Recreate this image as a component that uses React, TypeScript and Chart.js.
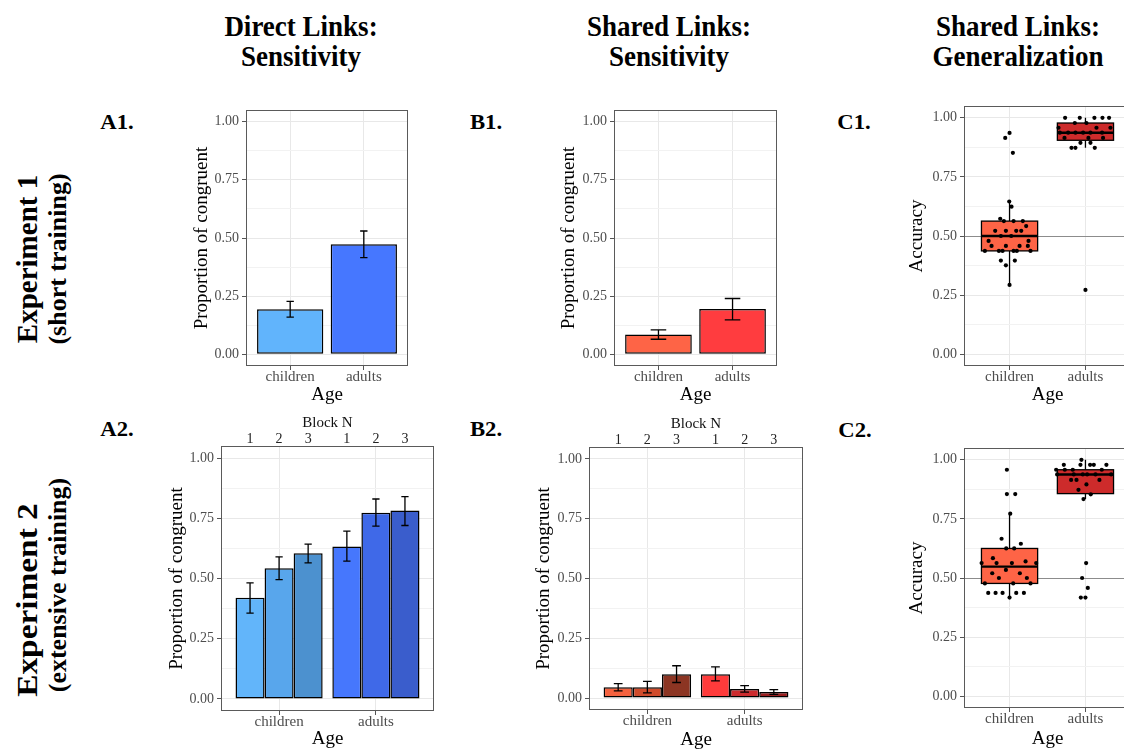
import React, { useEffect, useRef } from "react";
import { Chart, registerables } from "chart.js";

Chart.register(...registerables);

const FONT = "'Liberation Serif', 'Times New Roman', Times, serif";

// ---------- categories / ticks ----------
const ageGroups = ["children", "adults"];
const blockLabels = ["1", "2", "3"];
const yMajorTicks = [0, 0.25, 0.5, 0.75, 1];
const yMinorTicks = [0.125, 0.375, 0.625, 0.875];
const chanceLevel = 0.5;

// ---------- A1: Direct links sensitivity, Exp 1 ----------
const a1Means = [0.194, 0.473];
const a1Low = [0.16, 0.416];
const a1High = [0.228, 0.53];

// ---------- B1: Shared links sensitivity, Exp 1 ----------
const b1Means = [0.085, 0.195];
const b1Low = [0.065, 0.148];
const b1High = [0.105, 0.24];

// ---------- A2: per block, [children, adults] ----------
const a2Block1 = [0.42, 0.633];
const a2Block1Low = [0.356, 0.572];
const a2Block1High = [0.482, 0.697];
const a2Block2 = [0.543, 0.773];
const a2Block2Low = [0.495, 0.717];
const a2Block2High = [0.59, 0.83];
const a2Block3 = [0.605, 0.782];
const a2Block3Low = [0.565, 0.72];
const a2Block3High = [0.643, 0.84];

// ---------- B2: per block, [children, adults] ----------
const b2Block1 = [0.045, 0.1];
const b2Block1Low = [0.03, 0.072];
const b2Block1High = [0.06, 0.13];
const b2Block2 = [0.045, 0.038];
const b2Block2Low = [0.022, 0.025];
const b2Block2High = [0.07, 0.052];
const b2Block3 = [0.1, 0.025];
const b2Block3Low = [0.065, 0.015];
const b2Block3High = [0.135, 0.035];

// ---------- C1: generalization accuracy, Exp 1 ----------
const c1ChildAcc = [0.915, 0.936, 0.852, 0.646, 0.624, 0.573, 0.563, 0.563, 0.563, 0.542, 0.522, 0.522, 0.522, 0.522, 0.5, 0.5, 0.479, 0.479, 0.458, 0.458, 0.458, 0.458, 0.437, 0.437, 0.437, 0.437, 0.437, 0.437, 0.396, 0.396, 0.376, 0.293];
const c1ChildJitter = [-0.057, 0.0, 0.044, -0.004, 0.026, -0.123, -0.075, 0.053, 0.175, 0.219, -0.189, -0.048, 0.088, 0.154, -0.114, 0.022, -0.276, 0.25, -0.237, -0.048, 0.132, 0.241, -0.325, -0.14, -0.092, 0.053, 0.096, 0.276, -0.114, 0.07, -0.048, 0.0];
const c1AdultAcc = [1.0, 1.0, 1.0, 1.0, 1.0, 0.978, 0.978, 0.958, 0.958, 0.958, 0.937, 0.937, 0.937, 0.937, 0.937, 0.937, 0.915, 0.915, 0.915, 0.894, 0.894, 0.873, 0.873, 0.873, 0.272];
const c1AdultJitter = [-0.268, -0.075, 0.118, 0.224, 0.311, -0.14, 0.013, -0.355, 0.145, 0.329, -0.338, -0.228, -0.132, -0.031, 0.066, 0.219, -0.276, 0.039, 0.232, -0.066, 0.066, -0.184, -0.132, 0.123, 0.0];
// box stats [children, adults]
const c1Lower = [0.293, 0.873];
const c1Q1 = [0.437, 0.905];
const c1Median = [0.5, 0.937];
const c1Q3 = [0.563, 0.978];
const c1Upper = [0.646, 1.0];

// ---------- C2: generalization accuracy, Exp 2 ----------
const c2ChildAcc = [0.958, 0.855, 0.855, 0.772, 0.666, 0.645, 0.625, 0.625, 0.584, 0.57, 0.563, 0.563, 0.563, 0.563, 0.534, 0.52, 0.52, 0.5, 0.5, 0.477, 0.477, 0.477, 0.437, 0.437, 0.437, 0.437, 0.437, 0.417];
const c2ChildJitter = [-0.035, -0.035, 0.075, 0.009, -0.105, 0.149, -0.044, 0.061, -0.219, 0.211, -0.368, -0.171, 0.031, 0.351, -0.048, -0.228, 0.136, -0.14, 0.228, -0.325, 0.048, 0.276, -0.281, -0.184, -0.092, 0.088, 0.189, 0.0];
const c2AdultAcc = [1.0, 0.979, 0.979, 0.979, 0.979, 0.979, 0.958, 0.958, 0.958, 0.958, 0.938, 0.938, 0.938, 0.938, 0.938, 0.938, 0.915, 0.915, 0.915, 0.896, 0.873, 0.854, 0.834, 0.563, 0.5, 0.458, 0.417, 0.417];
const c2AdultJitter = [-0.053, -0.285, -0.066, 0.061, 0.11, 0.276, -0.386, -0.272, -0.167, 0.215, -0.373, -0.154, -0.035, 0.022, 0.132, 0.338, -0.189, -0.118, 0.184, 0.013, -0.092, 0.07, -0.026, 0.009, -0.044, 0.031, -0.061, 0.0];
const c2Lower = [0.417, 0.834];
const c2Q1 = [0.477, 0.857];
const c2Median = [0.548, 0.938];
const c2Q3 = [0.625, 0.958];
const c2Upper = [0.772, 1.0];

// ---------- colours ----------
const a1Colors = ["#61b4fc", "#4677ff"];
const b1Colors = ["#fe6446", "#ff3c3f"];
const a2ChildColors = ["#62b5fa", "#58a6ec", "#4c91cf"];
const a2AdultColors = ["#4677fd", "#3f69e8", "#3a5dcc"];
const b2ChildColors = ["#f4623f", "#d04b2b", "#8c3523"];
const b2AdultColors = ["#ff3b3b", "#cc2b2e", "#9a1d1e"];
const boxColors = ["#fe6446", "#cd2b2b"];

// ---------- axis/layout constants ----------
const X_MIN = 0.4;
const X_MAX = 2.6;
const Y_MIN = -0.05;
const Y_MAX = 1.05;
const DODGE = 0.9;
const BOX_WIDTH = 0.74;

const isMajor = (v: number) => yMajorTicks.some((m) => Math.abs(m - v) < 1e-9);

function zeroPad(s: any) {
  s.paddingLeft = 0;
  s.paddingRight = 0;
  s.paddingTop = 0;
  s.paddingBottom = 0;
}

function makeY(title: string, width: number, titlePad: number) {
  return {
    type: "linear",
    position: "left",
    min: Y_MIN,
    max: Y_MAX,
    offset: false,
    afterBuildTicks: (s: any) => {
      s.ticks = [...yMajorTicks, ...yMinorTicks].sort((a, b) => a - b).map((v) => ({ value: v }));
    },
    afterFit: (s: any) => {
      s.width = width;
      zeroPad(s);
    },
    ticks: {
      callback: (v: number) => (isMajor(v) ? v.toFixed(2) : ""),
      font: { family: FONT, size: 14, lineHeight: 1 },
      color: "#4d4d4d",
      padding: 3,
      autoSkip: false,
    },
    grid: {
      offset: false,
      color: (c: any) => (c.tick && isMajor(c.tick.value) ? "#e8e8e8" : "#f2f2f2"),
      tickColor: (c: any) => (c.tick && isMajor(c.tick.value) ? "#555" : "rgba(0,0,0,0)"),
      tickLength: 4,
      lineWidth: 1,
    },
    border: { display: false },
    title: {
      display: true,
      text: title,
      font: { family: FONT, size: 19, lineHeight: 1 },
      color: "#000",
      padding: { top: titlePad, bottom: 0 },
    },
  };
}

function makeX(height: number) {
  return {
    type: "linear",
    position: "bottom",
    min: X_MIN,
    max: X_MAX,
    offset: false,
    afterBuildTicks: (s: any) => {
      s.ticks = ageGroups.map((_, i) => ({ value: i + 1 }));
    },
    afterFit: (s: any) => {
      s.height = height;
      zeroPad(s);
    },
    ticks: {
      callback: (_v: number, i: number) => ageGroups[i],
      font: { family: FONT, size: 15, lineHeight: 1 },
      color: "#4d4d4d",
      padding: 0,
      maxRotation: 0,
      minRotation: 0,
      autoSkip: false,
    },
    grid: { offset: false, color: "#e8e8e8", tickColor: "#555", tickLength: 4, lineWidth: 1 },
    border: { display: false },
    title: {
      display: true,
      text: "Age",
      font: { family: FONT, size: 19, lineHeight: 1 },
      color: "#000",
      padding: { top: 0, bottom: 0 },
    },
  };
}

function makeTop(height: number, titlePad: number) {
  return {
    type: "linear",
    position: "top",
    min: X_MIN,
    max: X_MAX,
    offset: false,
    afterBuildTicks: (s: any) => {
      const t: any[] = [];
      const n = blockLabels.length;
      ageGroups.forEach((_, g) =>
        blockLabels.forEach((_, b) => t.push({ value: g + 1 + (b - (n - 1) / 2) * (DODGE / n) }))
      );
      s.ticks = t;
    },
    afterFit: (s: any) => {
      s.height = height;
      zeroPad(s);
    },
    ticks: {
      callback: (_v: number, i: number) => blockLabels[i % blockLabels.length],
      font: { family: FONT, size: 14, lineHeight: 1 },
      color: "#222",
      padding: 0,
      maxRotation: 0,
      minRotation: 0,
      autoSkip: false,
    },
    grid: { display: false, drawTicks: false, offset: false },
    border: { display: false },
    title: {
      display: true,
      text: "Block N",
      font: { family: FONT, size: 15, lineHeight: 1 },
      color: "#111",
      padding: { top: titlePad, bottom: 0 },
    },
  };
}

// ---------- plugins ----------
const panelBorder = {
  id: "panelBorder",
  afterDatasetsDraw(chart: any) {
    const { ctx, chartArea: a } = chart;
    ctx.save();
    ctx.strokeStyle = "#5a5a5a";
    ctx.lineWidth = 1;
    ctx.strokeRect(Math.round(a.left) + 0.5, Math.round(a.top) + 0.5, Math.round(a.width) - 1, Math.round(a.height) - 1);
    ctx.restore();
  },
};

const errorBars = {
  id: "errorBars",
  afterDatasetsDraw(chart: any, _args: any, opts: any) {
    const { ctx } = chart;
    const y = chart.scales.y;
    const x = chart.scales.x;
    const half = Math.abs(x.getPixelForValue(1 + opts.capWidth) - x.getPixelForValue(1)) / 2;
    ctx.save();
    ctx.strokeStyle = "#000";
    ctx.lineWidth = 1.3;
    chart.data.datasets.forEach((ds: any, di: number) => {
      const meta = chart.getDatasetMeta(di);
      meta.data.forEach((el: any, i: number) => {
        const cx = el.x;
        const yl = y.getPixelForValue(ds.errLow[i]);
        const yh = y.getPixelForValue(ds.errHigh[i]);
        ctx.beginPath();
        ctx.moveTo(cx, yl);
        ctx.lineTo(cx, yh);
        ctx.moveTo(cx - half, yl);
        ctx.lineTo(cx + half, yl);
        ctx.moveTo(cx - half, yh);
        ctx.lineTo(cx + half, yh);
        ctx.stroke();
      });
    });
    ctx.restore();
  },
};

const boxPlot = {
  id: "boxPlot",
  beforeDatasetsDraw(chart: any, _args: any, opts: any) {
    const { ctx, chartArea: a } = chart;
    const x = chart.scales.x;
    const y = chart.scales.y;
    ctx.save();
    const yc = Math.round(y.getPixelForValue(opts.chance)) + 0.5;
    ctx.strokeStyle = "#8c8c8c";
    ctx.lineWidth = 1.2;
    ctx.beginPath();
    ctx.moveTo(a.left, yc);
    ctx.lineTo(a.right, yc);
    ctx.stroke();
    const half = Math.abs(x.getPixelForValue(1 + opts.width) - x.getPixelForValue(1)) / 2;
    opts.boxes.forEach((b: any, i: number) => {
      const cx = x.getPixelForValue(i + 1);
      const pLo = y.getPixelForValue(b.lower);
      const pQ1 = y.getPixelForValue(b.q1);
      const pMed = y.getPixelForValue(b.median);
      const pQ3 = y.getPixelForValue(b.q3);
      const pHi = y.getPixelForValue(b.upper);
      ctx.strokeStyle = "#000";
      ctx.lineWidth = 1.3;
      ctx.beginPath();
      ctx.moveTo(cx, pLo);
      ctx.lineTo(cx, pQ1);
      ctx.moveTo(cx, pQ3);
      ctx.lineTo(cx, pHi);
      ctx.stroke();
      ctx.fillStyle = opts.colors[i];
      ctx.fillRect(cx - half, pQ3, half * 2, pQ1 - pQ3);
      ctx.strokeRect(cx - half, pQ3, half * 2, pQ1 - pQ3);
      ctx.lineWidth = 2.4;
      ctx.beginPath();
      ctx.moveTo(cx - half, pMed);
      ctx.lineTo(cx + half, pMed);
      ctx.stroke();
    });
    ctx.restore();
  },
};

// ---------- chart builders ----------
type Geom = { left: number; top: number; w: number; h: number; padL: number; padT: number; padR: number; padB: number; titlePad: number };

type Series = { values: number[]; low: number[]; high: number[]; colors: string[] };

function barConfig(g: Geom, series: Series[], capWidth: number, hasTop: boolean) {
  const scales: any = {
    x: makeX(g.padB),
    y: makeY("Proportion of congruent", g.padL, g.titlePad),
  };
  if (hasTop) scales.xTop = makeTop(g.padT, 5.5);
  return {
    type: "bar",
    data: {
      datasets: series.map((s) => ({
        data: ageGroups.map((_, i) => ({ x: i + 1, y: s.values[i] })),
        errLow: s.low,
        errHigh: s.high,
        backgroundColor: s.colors,
        borderColor: "#000",
        borderWidth: 1.5,
        borderSkipped: false,
        categoryPercentage: DODGE,
        barPercentage: 1,
        xAxisID: "x",
        yAxisID: "y",
      })),
    },
    options: {
      responsive: false,
      animation: false,
      devicePixelRatio: 1,
      events: [],
      layout: { padding: { top: hasTop ? 0 : g.padT, right: g.padR, left: 0, bottom: 0 } },
      plugins: { legend: { display: false }, tooltip: { enabled: false }, errorBars: { capWidth } },
      scales,
    },
    plugins: [errorBars, panelBorder],
  };
}

function boxConfig(
  g: Geom,
  childAcc: number[],
  childJit: number[],
  adultAcc: number[],
  adultJit: number[],
  lower: number[],
  q1: number[],
  median: number[],
  q3: number[],
  upper: number[]
) {
  const groups = [
    { acc: childAcc, jit: childJit },
    { acc: adultAcc, jit: adultJit },
  ];
  const boxes = ageGroups.map((_, i) => ({ lower: lower[i], q1: q1[i], median: median[i], q3: q3[i], upper: upper[i] }));
  return {
    type: "scatter",
    data: {
      datasets: groups.map((grp, gi) => ({
        data: grp.acc.map((v, i) => ({ x: gi + 1 + grp.jit[i], y: v })),
        backgroundColor: "#000",
        borderColor: "#000",
        borderWidth: 0,
        pointRadius: 2.1,
        pointHoverRadius: 2.1,
      })),
    },
    options: {
      responsive: false,
      animation: false,
      devicePixelRatio: 1,
      events: [],
      layout: { padding: { top: g.padT, right: g.padR, left: 0, bottom: 0 } },
      plugins: {
        legend: { display: false },
        tooltip: { enabled: false },
        boxPlot: { boxes, colors: boxColors, width: BOX_WIDTH, chance: chanceLevel },
      },
      scales: {
        x: makeX(g.padB),
        y: makeY("Accuracy", g.padL, g.titlePad),
      },
    },
    plugins: [boxPlot, panelBorder],
  };
}

function Panel({ g, make }: { g: Geom; make: () => any }) {
  const ref = useRef<HTMLCanvasElement>(null);
  useEffect(() => {
    const chart = new Chart(ref.current as HTMLCanvasElement, make());
    return () => chart.destroy();
  }, []);
  const W = g.padL + g.w + g.padR;
  const H = g.padT + g.h + g.padB;
  return (
    <canvas
      ref={ref}
      width={W}
      height={H}
      style={{ position: "absolute", left: g.left - g.padL, top: g.top - g.padT, width: W, height: H, display: "block" }}
    />
  );
}

const gA1: Geom = { left: 246, top: 110, w: 162, h: 256, padL: 56, padT: 6, padR: 4, padB: 39, titlePad: 3 };
const gB1: Geom = { left: 614, top: 110, w: 163, h: 256, padL: 56, padT: 6, padR: 4, padB: 39, titlePad: 2 };
const gC1: Geom = { left: 964, top: 106, w: 167, h: 260, padL: 56, padT: 6, padR: 4, padB: 39, titlePad: 0 };
const gA2: Geom = { left: 221, top: 446, w: 213, h: 265, padL: 56, padT: 36, padR: 4, padB: 38, titlePad: 3 };
const gB2: Geom = { left: 589, top: 447, w: 214, h: 263, padL: 56, padT: 36, padR: 4, padB: 40, titlePad: 2 };
const gC2: Geom = { left: 964, top: 448, w: 167, h: 260, padL: 56, padT: 6, padR: 4, padB: 41, titlePad: 0 };

function Label({
  x,
  y,
  text,
  size,
  rotate,
  stretch,
  stretchY,
}: {
  x: number;
  y: number;
  text: string;
  size: number;
  rotate?: boolean;
  stretch?: number;
  stretchY?: number;
}) {
  const tf = `translate(-50%, -50%)${rotate ? " rotate(-90deg)" : ""}${stretch ? ` scaleX(${stretch})` : ""}${
    stretchY ? ` scaleY(${stretchY})` : ""
  }`;
  return (
    <div
      style={{
        position: "absolute",
        left: x,
        top: y,
        transform: tf,
        fontFamily: FONT,
        fontWeight: "bold",
        fontSize: size,
        lineHeight: 1,
        whiteSpace: "nowrap",
        color: "#000",
      }}
    >
      {text}
    </div>
  );
}

export default function App() {
  return (
    <div style={{ position: "absolute", left: 0, top: 0, width: 1124, height: 752, overflow: "hidden", background: "#fff" }}>
      <Label x={301} y={26} text="Direct Links:" size={27} stretchY={1.12} />
      <Label x={301} y={56} text="Sensitivity" size={27} stretchY={1.12} />
      <Label x={669} y={26} text="Shared Links:" size={27} stretchY={1.12} />
      <Label x={669} y={56} text="Sensitivity" size={27} stretchY={1.12} />
      <Label x={1018} y={26} text="Shared Links:" size={27} stretchY={1.12} />
      <Label x={1018} y={56} text="Generalization" size={27} stretchY={1.12} />

      <Label x={117} y={122} text="A1." size={21} stretch={1.08} />
      <Label x={486} y={122} text="B1." size={21} stretch={1.08} />
      <Label x={854} y={122} text="C1." size={21} stretch={1.08} />
      <Label x={117} y={429} text="A2." size={21} stretch={1.08} />
      <Label x={486} y={429} text="B2." size={21} stretch={1.08} />
      <Label x={855} y={430} text="C2." size={21} stretch={1.08} />

      <Label x={27} y={259} text="Experiment 1" size={29} rotate />
      <Label x={58} y={259} text="(short training)" size={26} rotate />
      <Label x={27} y={600} text="Experiment 2" size={29} rotate stretch={1.15} />
      <Label x={58} y={585} text="(extensive training)" size={26} rotate />

      <Panel
        g={gA1}
        make={() => barConfig(gA1, [{ values: a1Means, low: a1Low, high: a1High, colors: a1Colors }], 0.1, false)}
      />
      <Panel
        g={gB1}
        make={() => barConfig(gB1, [{ values: b1Means, low: b1Low, high: b1High, colors: b1Colors }], 0.21, false)}
      />
      <Panel
        g={gC1}
        make={() => boxConfig(gC1, c1ChildAcc, c1ChildJitter, c1AdultAcc, c1AdultJitter, c1Lower, c1Q1, c1Median, c1Q3, c1Upper)}
      />
      <Panel
        g={gA2}
        make={() =>
          barConfig(
            gA2,
            [
              { values: a2Block1, low: a2Block1Low, high: a2Block1High, colors: [a2ChildColors[0], a2AdultColors[0]] },
              { values: a2Block2, low: a2Block2Low, high: a2Block2High, colors: [a2ChildColors[1], a2AdultColors[1]] },
              { values: a2Block3, low: a2Block3Low, high: a2Block3High, colors: [a2ChildColors[2], a2AdultColors[2]] },
            ],
            0.075,
            true
          )
        }
      />
      <Panel
        g={gB2}
        make={() =>
          barConfig(
            gB2,
            [
              { values: b2Block1, low: b2Block1Low, high: b2Block1High, colors: [b2ChildColors[0], b2AdultColors[0]] },
              { values: b2Block2, low: b2Block2Low, high: b2Block2High, colors: [b2ChildColors[1], b2AdultColors[1]] },
              { values: b2Block3, low: b2Block3Low, high: b2Block3High, colors: [b2ChildColors[2], b2AdultColors[2]] },
            ],
            0.09,
            true
          )
        }
      />
      <Panel
        g={gC2}
        make={() => boxConfig(gC2, c2ChildAcc, c2ChildJitter, c2AdultAcc, c2AdultJitter, c2Lower, c2Q1, c2Median, c2Q3, c2Upper)}
      />
    </div>
  );
}
